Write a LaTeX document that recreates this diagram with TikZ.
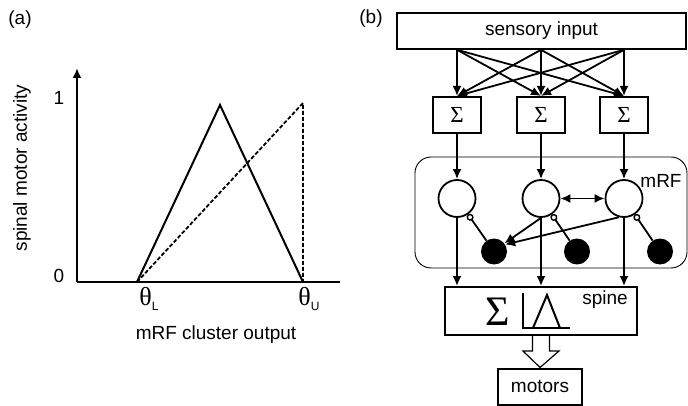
\documentclass[tikz,border=0pt]{standalone}
\usepackage{fontspec}
\setmainfont{Liberation Sans}
\newfontfamily\greekserif{Liberation Serif}
\usetikzlibrary{arrows.meta,calc}

\tikzset{
  lbl/.style={font=\fontsize{19}{22}\selectfont, inner sep=0pt},
  blockbox/.style={draw, line width=2pt, minimum height=36pt, inner sep=0pt,
    font=\fontsize{19}{22}\selectfont},
  sumbox/.style={blockbox, minimum width=48pt, font=\greekserif\fontsize{23}{24}\selectfont},
  cellopen/.style={circle, draw, line width=1.8pt, minimum size=37pt, inner sep=0pt},
  cellfill/.style={circle, fill=black, minimum size=26pt, inner sep=0pt},
  link/.style={->, line width=1.8pt},
  inhib/.style={-{Circle[open, length=7pt, width=7pt, line width=1.4pt]}, line width=1.8pt},
}

\begin{document}
\begin{tikzpicture}[x=1pt, y=-1pt, >={Latex[length=10pt, width=9pt]}]
\useasboundingbox (0,0) rectangle (688,406);

    % (a) activation curves
    \node[lbl] (taga) at (20,20) {(a)};
    \coordinate (O) at (77,282);
    \coordinate (ytop) at (77,68);
    \coordinate (xend) at (340,282);
    \coordinate (thL) at (137,282);
    \coordinate (peak) at (220,105);
    \coordinate (thU) at (303,282);
    \coordinate (thUtop) at (303,103);

    \draw[->, line width=2.2pt] (O) -- (ytop);
    \draw[line width=2.2pt] (O) -- (xend);
    \draw[line width=2pt] (thL) -- (peak) -- (thU);
    \draw[line width=1.8pt, dash pattern=on 4pt off 2pt] (thL) -- (thUtop) -- (thU);

    \node[lbl] (one) at (59,98) {1};
    \node[lbl] (zero) at (59,276) {0};
    \node[lbl] (thLlbl) at (149,299) {{\greekserif\fontsize{26}{26}\selectfont θ}\raisebox{-5pt}{\fontsize{12}{12}\selectfont L}};
    \node[lbl] (thUlbl) at (309,299) {{\greekserif\fontsize{26}{26}\selectfont θ}\raisebox{-5pt}{\fontsize{12}{12}\selectfont U}};
    \node[lbl] (xlbl) at (216,335) {mRF cluster output};
    \node[lbl, rotate=90] (ylbl) at (22,168) {spinal motor activity};

    % (b) network
    \node[lbl] (tagb) at (371,19) {(b)};
    \node[blockbox, line width=1.6pt, minimum width=289pt] (sensory) at (541.5,31) {sensory input};

    \node[sumbox] (s1) at (457,115) {Σ};
    \node[sumbox] (s2) at (541,115) {Σ};
    \node[sumbox] (s3) at (624,115) {Σ};

    \foreach \i in {1,2,3}
      \foreach \j in {1,2,3}
        \draw[link] (sensory.south -| s\i) -- (s\j.north);

    % mRF cluster
    \node[draw, rounded corners=16pt, line width=0.9pt, minimum width=272pt,
      minimum height=111pt] (mrf) at (551,212.5) {};
    \node[lbl] (mrflbl) at (661,181) {mRF};

    \node[cellopen] (n1) at (457,198.5) {};
    \node[cellopen] (n2) at (541,198.5) {};
    \node[cellopen] (n3) at (624,198.5) {};
    \node[cellfill] (f1) at (494,251.5) {};
    \node[cellfill] (f2) at (577,251.5) {};
    \node[cellfill] (f3) at (660,251.5) {};

    \foreach \k in {1,2,3} {
      \draw[link] (s\k.south) -- (n\k.north);
      \draw[inhib] (f\k) -- (n\k);
    }
    \draw[link] (n2.south) -- (f1.38);
    \draw[link] (n3.255) -- (f1.32);
    \draw[<->, line width=1.8pt] (n2) -- (n3);

    % spine and motors
    \node[blockbox, minimum width=192pt, minimum height=48pt] (spine) at (541,311) {};
    \foreach \k in {1,2,3}
      \draw[link] (n\k.south) -- (n\k.south |- spine.north);
    \node[lbl] (spinelbl) at (605,300) {spine};
    \node[font=\greekserif\fontsize{42}{44}\selectfont, inner sep=0pt] (sumbig) at (498,312) {Σ};
    \draw[line width=2pt] (523,293) -- (523,328) -- (570,328);
    \draw[line width=2pt] (533,328) -- (547,295) -- (560,328);

    \node[blockbox, minimum width=84pt] (motors) at (540,386.5) {motors};
    \draw[line width=1.2pt, fill=white]
      ($(spine.south)+(-8.5,0)$) -- ++(0,15) -- ++(-9.5,0) -- (motors.north)
      -- ($(spine.south)+(18,15)$) -- ($(spine.south)+(8.5,15)$)
      -- ($(spine.south)+(8.5,0)$);

\end{tikzpicture}
\end{document}
